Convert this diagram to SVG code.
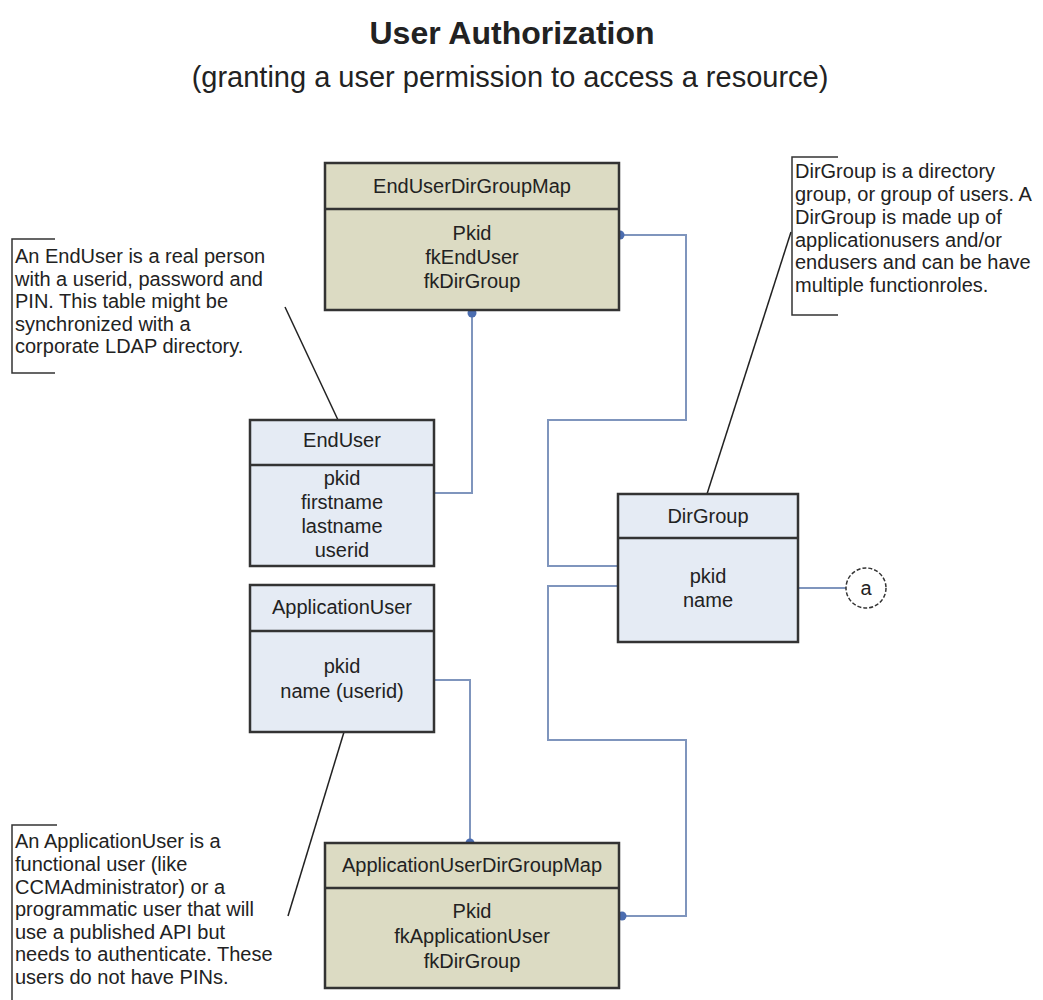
<svg xmlns="http://www.w3.org/2000/svg" width="1043" height="1000" viewBox="0 0 1043 1000">
<style>
text{font-family:"Liberation Sans",Arial,sans-serif;fill:#222}
.t{font-size:20px;text-anchor:middle}
.n{font-size:20px}
.ent{fill:#e5ebf4;stroke:#333;stroke-width:2.5}
.map{fill:#dcdbc3;stroke:#333;stroke-width:2.5}
.div{stroke:#333;stroke-width:2.5}
.c{fill:none;stroke:#7f95bd;stroke-width:2}
.dot{fill:#4b6db0}
.br{fill:none;stroke:#333;stroke-width:1.5}
.ln{stroke:#222;stroke-width:1.5}
</style>
<rect width="1043" height="1000" fill="#fff"/>
<text x="512" y="44" style="font-size:32px;font-weight:bold;text-anchor:middle">User Authorization</text>
<text x="510" y="87" style="font-size:29px;text-anchor:middle">(granting a user permission to access a resource)</text>

<g id="connectors">
<polyline class="c" points="620,235 686,235 686,420 548,420 548,566 618,566"/>
<polyline class="c" points="618,586 548,586 548,740 686,740 686,916 620,916"/>
<polyline class="c" points="434,493 472,493 472,313"/>
<polyline class="c" points="434,680 470,680 470,843"/>
<line class="c" x1="798" y1="588" x2="846" y2="588"/>
<circle class="dot" cx="620" cy="235" r="4.5"/>
<circle class="dot" cx="472" cy="313" r="4.5"/>
<circle class="dot" cx="470" cy="843" r="4.5"/>
<circle class="dot" cx="622" cy="916" r="4.5"/>
<line class="ln" x1="285" y1="307" x2="338" y2="420"/>
<line class="ln" x1="791" y1="232" x2="707" y2="494"/>
<line class="ln" x1="344" y1="732" x2="288" y2="916"/>
</g>

<g id="EndUserDirGroupMap">
<rect class="map" x="325" y="163" width="294" height="147"/>
<line class="div" x1="325" y1="209" x2="619" y2="209"/>
<text class="t" x="472" y="193">EndUserDirGroupMap</text>
<text class="t" x="472" y="240">Pkid</text>
<text class="t" x="472" y="264">fkEndUser</text>
<text class="t" x="472" y="288">fkDirGroup</text>
</g>

<g id="EndUser">
<rect class="ent" x="250" y="420" width="184" height="146"/>
<line class="div" x1="250" y1="465" x2="434" y2="465"/>
<text class="t" x="342" y="447">EndUser</text>
<text class="t" x="342" y="485">pkid</text>
<text class="t" x="342" y="509">firstname</text>
<text class="t" x="342" y="533">lastname</text>
<text class="t" x="342" y="557">userid</text>
</g>

<g id="ApplicationUser">
<rect class="ent" x="250" y="585" width="184" height="147"/>
<line class="div" x1="250" y1="631" x2="434" y2="631"/>
<text class="t" x="342" y="614">ApplicationUser</text>
<text class="t" x="342" y="673">pkid</text>
<text class="t" x="342" y="698">name (userid)</text>
</g>

<g id="DirGroup">
<rect class="ent" x="618" y="494" width="180" height="148"/>
<line class="div" x1="618" y1="538" x2="798" y2="538"/>
<text class="t" x="708" y="523">DirGroup</text>
<text class="t" x="708" y="583">pkid</text>
<text class="t" x="708" y="607">name</text>
</g>

<g id="a">
<circle cx="866" cy="588" r="20" fill="#fff" stroke="#333" stroke-width="1.5" stroke-dasharray="4,2"/>
<text class="t" x="866" y="595">a</text>
</g>

<g id="ApplicationUserDirGroupMap">
<rect class="map" x="325" y="843" width="294" height="145"/>
<line class="div" x1="325" y1="888" x2="619" y2="888"/>
<text class="t" x="472" y="872">ApplicationUserDirGroupMap</text>
<text class="t" x="472" y="918">Pkid</text>
<text class="t" x="472" y="943">fkApplicationUser</text>
<text class="t" x="472" y="968">fkDirGroup</text>
</g>

<g id="note-enduser">
<polyline class="br" points="55,239 12,239 12,373 55,373"/>
<text class="n" x="15" y="263">An EndUser is a real person</text>
<text class="n" x="15" y="286">with a userid, password and</text>
<text class="n" x="15" y="308">PIN. This table might be</text>
<text class="n" x="15" y="331">synchronized with a</text>
<text class="n" x="15" y="353">corporate LDAP directory.</text>
</g>

<g id="note-dirgroup">
<polyline class="br" points="838,157 792,157 792,315 838,315"/>
<text class="n" x="795" y="178">DirGroup is a directory</text>
<text class="n" x="795" y="201">group, or group of users. A</text>
<text class="n" x="795" y="224">DirGroup is made up of</text>
<text class="n" x="795" y="247">applicationusers and/or</text>
<text class="n" x="795" y="269">endusers and can be have</text>
<text class="n" x="795" y="292">multiple functionroles.</text>
</g>

<g id="note-appuser">
<polyline class="br" points="57,825 12,825 12,1000"/>
<text class="n" x="15" y="848">An ApplicationUser is a</text>
<text class="n" x="15" y="871">functional user (like</text>
<text class="n" x="15" y="894">CCMAdministrator) or a</text>
<text class="n" x="15" y="916">programmatic user that will</text>
<text class="n" x="15" y="939">use a published API but</text>
<text class="n" x="15" y="961">needs to authenticate. These</text>
<text class="n" x="15" y="984">users do not have PINs.</text>
</g>
</svg>
